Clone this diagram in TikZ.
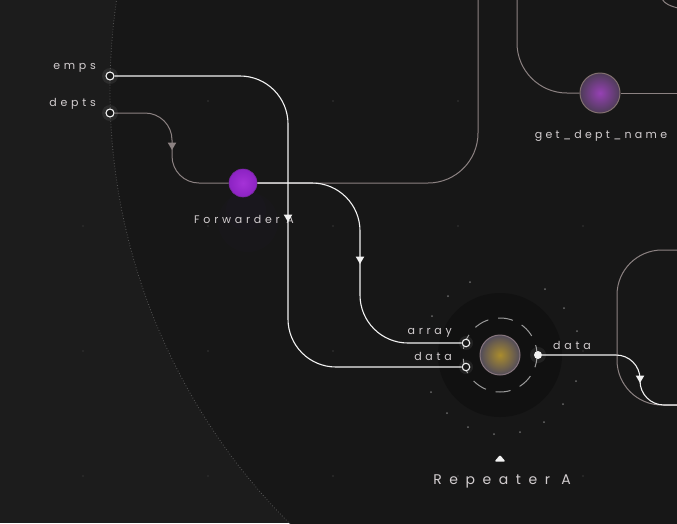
\documentclass[tikz,border=0pt]{standalone}
\usepackage{fontspec}
\setmainfont{Poppins}
\newfontfamily\lblfont[LetterSpace=34]{Poppins}
\newfontfamily\midfont[LetterSpace=30]{Poppins}
\newfontfamily\bigfont[LetterSpace=54]{Poppins}
\usetikzlibrary{shapes.geometric}
\definecolor{bgout}{HTML}{1C1C1C}
\definecolor{bgin}{HTML}{171717}
\definecolor{halo}{HTML}{111111}
\definecolor{wire}{HTML}{F2F2F2}
\definecolor{gwire}{HTML}{8C8282}
\definecolor{lbl}{HTML}{D2CDCF}
\definecolor{dotc}{HTML}{2C2C2C}
\definecolor{ringc}{HTML}{9A9A9A}
\definecolor{fglow}{RGB}{60,30,90}
\definecolor{fwdd}{RGB}{120,40,160}
\definecolor{fwdi}{RGB}{165,50,215}
\definecolor{fwdo}{RGB}{140,35,195}
\definecolor{gdnd}{RGB}{130,112,112}
\definecolor{gdni}{RGB}{150,65,180}
\definecolor{gdno}{RGB}{78,60,88}
\definecolor{repd}{RGB}{135,118,125}
\definecolor{repi}{RGB}{170,140,45}
\definecolor{repo}{RGB}{82,76,90}
\tikzset{
  port/.style={circle, draw=wire, line width=1.1pt, fill=bgin, inner sep=0pt, minimum size=8pt},
  outport/.style={circle, fill=wire, inner sep=0pt, minimum size=8pt},
  lbl/.style={text=lbl, font=\lblfont\fontsize{11}{13}\selectfont, inner sep=0pt},
  midlbl/.style={text=lbl, font=\midfont\fontsize{11}{13}\selectfont, inner sep=0pt},
  biglbl/.style={text=lbl, font=\bigfont\fontsize{14}{16}\selectfont, inner sep=0pt},
  wwire/.style={draw=wire, line width=1.1pt},
  gw/.style={draw=gwire, line width=1pt},
  tri/.style={regular polygon, regular polygon sides=3, shape border rotate=180, inner sep=0pt, minimum size=10pt},
  glow/.style={fill=white, opacity=0.07},
}
\begin{document}
\begin{tikzpicture}[x=1pt,y=-1pt]
\fill[bgout] (0,0) rectangle (677,523);
\useasboundingbox (0,0) rectangle (677,523);
\begin{scope}
  \clip (0,0) rectangle (677,523);
  \fill[bgin] (723,90) circle (613pt);
  \draw[dotc!80!white, dotted, line width=0.8pt] (723,90) circle (613pt);
\end{scope}
% grid dots
\foreach \gx in {83,208,333,458,583}{
  \foreach \gy in {101,226,351,476}{
    \fill[dotc] (\gx,\gy) circle (1.2pt);
  }
}
% forwarder glow
\fill[fglow, opacity=0.05] (248,222) circle (30pt);
\fill[fglow, opacity=0.05] (246,210) circle (20pt);
% repeater halo
\fill[halo] (500,355) circle (62pt);
\foreach \dx/\dy in {448/296,432/316,564/308,577/331,576/381,563/404,544/422,520/432,494/434,468/427,447/413,431/392,545/289,470/282}{
  \fill[dotc!70!white] (\dx,\dy) circle (1pt);
}
\draw[ringc, line width=1pt, dash pattern=on 15pt off 10pt, dash phase=5pt] (500,355) circle (37pt);

% ports
\fill[glow] (110,76) circle (8pt);
\fill[glow] (110,113) circle (8pt);
\node[port] (emps) at (110,76) {};
\node[port] (depts) at (110,113) {};
\node[lbl, anchor=east] (empsl) at (96,68) {emps};
\node[lbl, anchor=east] (deptsl) at (96,104) {depts};

% main nodes
\node[circle, inner sep=0pt, minimum size=28pt, draw=fwdd, line width=0.6pt,
      inner color=fwdi, outer color=fwdo] (fwd) at (243,183) {};
\node[lbl] (fwdl) at (244,219) {Forwarder A};

\node[circle, inner sep=0pt, minimum size=40pt, draw=gdnd, line width=1pt,
      inner color=gdni, outer color=gdno] (gdn) at (600,93) {};
\node[midlbl] (gdnl) at (601,136) {get\_dept\_name};

\node[circle, inner sep=0pt, minimum size=40pt, draw=repd, line width=1pt,
      inner color=repi, outer color=repo] (rep) at (500,355) {};
\node[biglbl] (repl) at (502,481) {Repeater A};
\fill[wire, rounded corners=1.2pt] (494.5,461.5) -- (500,455) -- (505.5,461.5) -- cycle;

% gray wires
\draw[gw, rounded corners=27pt] (depts.east) -- (172,113) -- (172,183) -- (fwd.west);
\draw[gw, rounded corners=50pt] (fwd.east) -- (478,183) -- (478,-5);
\draw[gw, rounded corners=50pt] (517,-5) -- (517,93) -- (gdn.west);
\draw[gw] (gdn.east) -- (680,93);
\draw[gw] (662,-1) .. controls (665,4) and (670,6) .. (678,8);
\draw[gw, rounded corners=45pt] (680,250) -- (617,250) -- (617,405) -- (680,405);

% repeater ports
\fill[glow] (466,343) circle (7pt);
\fill[glow] (466,367) circle (7pt);
\fill[glow] (538,355) circle (8pt);
\node[port, minimum size=7.5pt] (arrIn) at (466,343) {};
\node[port, minimum size=7.5pt] (dataIn) at (466,367) {};
\node[outport] (dataOut) at (538,355) {};
\node[lbl, anchor=east] (arrl) at (452,333) {array};
\node[lbl, anchor=east] (datal) at (452,356) {data};
\node[lbl, anchor=west] (outl) at (553,345) {data};

% white wires
\draw[wwire, rounded corners=48pt] (emps.east) -- (288,76) -- (288,367) -- (dataIn.west);
\draw[wwire, rounded corners=48pt] (fwd.east) -- (360,183) -- (360,343) -- (arrIn.west);
\draw[wwire, rounded corners=24pt] (dataOut.east) -- (640,355) -- (640,405) -- (680,405);

% arrowheads
\node[tri, fill=gwire] (ar1) at (172,145) {};
\node[tri, fill=wire] (ar2) at (288,217) {};
\node[tri, fill=wire] (ar3) at (360,259) {};
\node[tri, fill=wire] (ar4) at (640,378) {};
\end{tikzpicture}
\end{document}
